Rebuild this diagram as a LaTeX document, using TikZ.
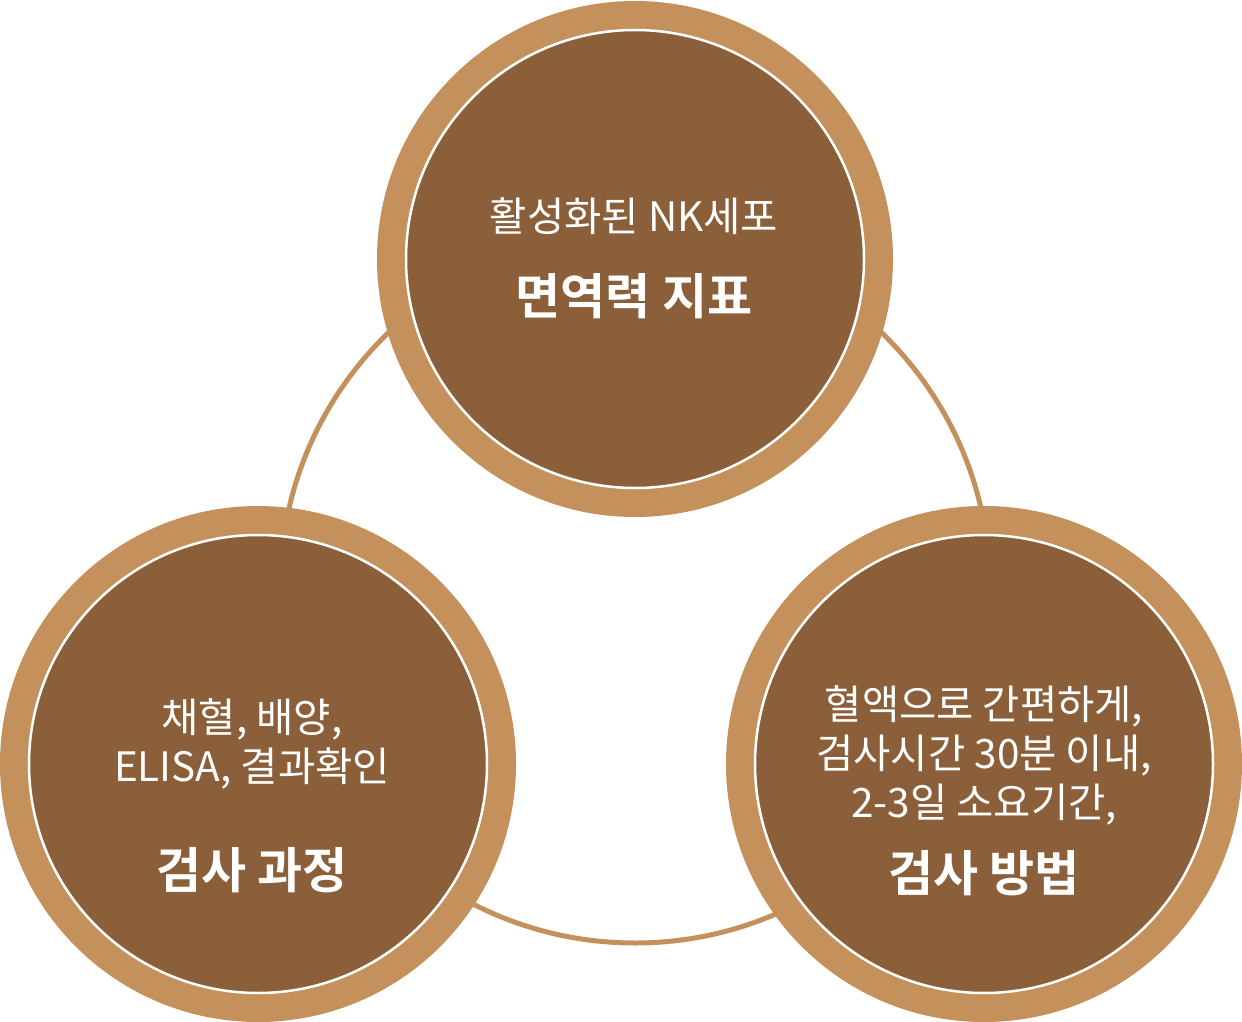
\documentclass[tikz,border=0pt]{standalone}
\usepackage{fontspec}
\setmainfont{Noto Sans CJK KR}[BoldFont={Noto Sans CJK KR Bold}]
\definecolor{tan}{HTML}{C4915D}
\definecolor{brownfill}{HTML}{8B5F3A}
\begin{document}
\begin{tikzpicture}[x=1pt,y=1pt,
  outerc/.style={circle,fill=tan,minimum size=516pt,inner sep=0pt},
  innerc/.style={circle,fill=brownfill,draw=white,line width=2.5pt,minimum size=458pt,inner sep=0pt},
  body/.style={text=white,align=center,font=\fontsize{40.5}{49}\selectfont},
  title/.style={text=white,align=center,font=\fontsize{49}{56}\selectfont\bfseries}]
\useasboundingbox (0,0) rectangle (1242,-1022);
\coordinate (ringc) at (635,-588);
\draw[tan,line width=5pt] (ringc) circle (355);
% top
\node[outerc] (topo) at (635,-259) {};
\node[innerc] (topi) at (635,-259) {};
\node[body] (topt) at (634,-216) {활성화된 NK세포};
\node[title] (toph) at (634,-296) {면역력 지표};
% bottom left
\node[outerc] (lefto) at (258,-764) {};
\node[innerc] (lefti) at (258,-764) {};
\node[body] (leftt) at (252,-744) {채혈, 배양,\\ELISA, 결과확인};
\node[title] (lefth) at (252,-870) {검사 과정};
% bottom right
\node[outerc] (righto) at (984,-764) {};
\node[innerc] (righti) at (984,-764) {};
\node[body] (rightt) at (984,-755) {혈액으로 간편하게,\\검사시간 30분 이내,\\2-3일 소요기간,};
\node[title] (righth) at (984,-873) {검사 방법};
\end{tikzpicture}
\end{document}
